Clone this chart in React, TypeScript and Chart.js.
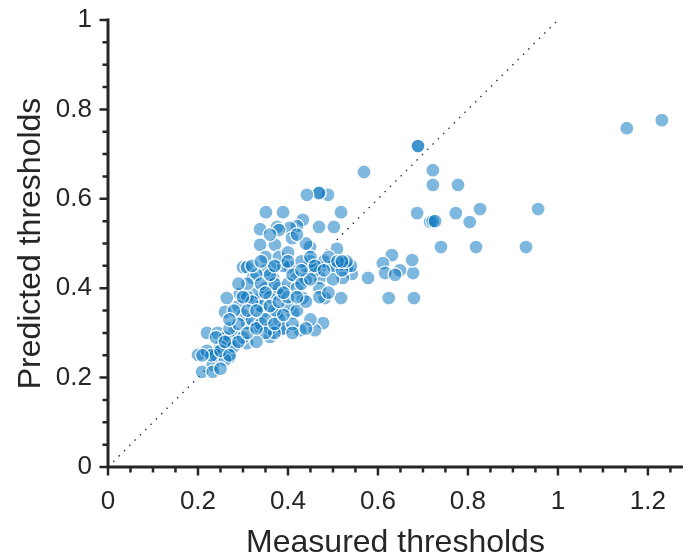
import React, { useEffect, useRef } from "react";
import { Chart, registerables } from "chart.js";
Chart.register(...registerables);

const measured = [
  1.231, 1.153, 0.956, 0.929, 0.818, 0.827, 0.804, 0.778, 0.773, 0.74,
  0.722, 0.722, 0.716, 0.722, 0.727, 0.687, 0.689, 0.689, 0.68, 0.678,
  0.676, 0.649, 0.631, 0.624, 0.611, 0.616, 0.638, 0.578, 0.569, 0.542,
  0.518, 0.518, 0.522, 0.531, 0.509, 0.502, 0.489, 0.469, 0.469, 0.442,
  0.433, 0.469, 0.449, 0.42, 0.404, 0.376, 0.338, 0.351, 0.389, 0.338,
  0.371, 0.409, 0.3, 0.309, 0.367, 0.404, 0.442, 0.471, 0.509, 0.54,
  0.322, 0.367, 0.42, 0.471, 0.522, 0.482, 0.433,
  0.378, 0.293, 0.264, 0.331, 0.26, 0.376, 0.342, 0.411, 0.478, 0.46,
  0.309, 0.382, 0.427, 0.22, 0.244, 0.271, 0.309, 0.36, 0.238, 0.2,
  0.271, 0.233, 0.209, 0.233, 0.271, 0.331, 0.33, 0.35, 0.36, 0.38,
  0.4, 0.42, 0.44, 0.46, 0.48, 0.5, 0.45, 0.39, 0.35, 0.33,
  0.31, 0.29, 0.3, 0.32, 0.34, 0.36, 0.38, 0.4, 0.42, 0.44,
  0.39, 0.37, 0.28, 0.26, 0.25, 0.27, 0.29, 0.22, 0.24, 0.26,
  0.25, 0.28, 0.43, 0.41, 0.37, 0.34, 0.47, 0.5, 0.49, 0.52,
  0.53, 0.35, 0.38, 0.45, 0.4, 0.44, 0.38, 0.36, 0.42, 0.31,
  0.29, 0.32, 0.37, 0.41, 0.45, 0.35, 0.3, 0.33,
  0.23, 0.21, 0.25, 0.27, 0.24, 0.26, 0.29, 0.31, 0.33, 0.35,
  0.37, 0.39, 0.36, 0.38, 0.4, 0.42, 0.43, 0.45, 0.46, 0.48,
  0.51, 0.34, 0.36, 0.32, 0.34, 0.37, 0.4, 0.43, 0.3, 0.28,
  0.27, 0.31, 0.33, 0.44, 0.41, 0.35, 0.39, 0.47, 0.49, 0.52,
];

const predicted = [
  0.776, 0.758, 0.577, 0.492, 0.492, 0.577, 0.548, 0.631, 0.568, 0.492,
  0.664, 0.631, 0.548, 0.55, 0.55, 0.568, 0.718, 0.718, 0.378, 0.434,
  0.463, 0.44, 0.474, 0.378, 0.456, 0.434, 0.43, 0.423, 0.66, 0.432,
  0.378, 0.57, 0.456, 0.447, 0.488, 0.537, 0.609, 0.613, 0.613, 0.609,
  0.553, 0.537, 0.492, 0.539, 0.535, 0.537, 0.532, 0.57, 0.57, 0.497,
  0.497, 0.512, 0.447, 0.447, 0.447, 0.447, 0.447, 0.447, 0.447, 0.45,
  0.423, 0.423, 0.423, 0.423, 0.423, 0.378, 0.378,
  0.387, 0.387, 0.378, 0.374, 0.347, 0.345, 0.345, 0.345, 0.322, 0.306,
  0.322, 0.306, 0.306, 0.3, 0.3, 0.284, 0.277, 0.291, 0.257, 0.251,
  0.246, 0.228, 0.213, 0.213, 0.268, 0.315, 0.39, 0.4, 0.38, 0.4,
  0.41, 0.4, 0.42, 0.44, 0.46, 0.45, 0.46, 0.45, 0.44, 0.43,
  0.38, 0.36, 0.34, 0.33, 0.32, 0.31, 0.33, 0.36, 0.35, 0.37,
  0.31, 0.3, 0.3, 0.29, 0.27, 0.31, 0.32, 0.26, 0.25, 0.24,
  0.22, 0.27, 0.46, 0.43, 0.41, 0.36, 0.4, 0.42, 0.47, 0.44,
  0.46, 0.47, 0.47, 0.47, 0.48, 0.5, 0.53, 0.52, 0.52, 0.41,
  0.41, 0.37, 0.35, 0.32, 0.33, 0.3, 0.29, 0.28,
  0.25, 0.25, 0.26, 0.25, 0.29, 0.28, 0.28, 0.3, 0.31, 0.33,
  0.32, 0.34, 0.36, 0.37, 0.38, 0.38, 0.41, 0.42, 0.45, 0.44,
  0.46, 0.41, 0.43, 0.45, 0.46, 0.45, 0.46, 0.44, 0.38, 0.35,
  0.33, 0.35, 0.35, 0.31, 0.3, 0.39, 0.39, 0.38, 0.39, 0.46,
];

const xTicks = [0, 0.2, 0.4, 0.6, 0.8, 1, 1.2];
const xTickLabels = ["0", "0.2", "0.4", "0.6", "0.8", "1", "1.2"];
const yTicks = [0, 0.2, 0.4, 0.6, 0.8, 1];
const yTickLabels = ["0", "0.2", "0.4", "0.6", "0.8", "1"];
const diagonal = [
  { x: 0, y: 0 },
  { x: 1, y: 1 },
];
const xTitle = "Measured thresholds";
const yTitle = "Predicted thresholds";

const INK = "#262626";
const FONT = "'Liberation Sans', Arial, Helvetica, sans-serif";

export default function App() {
  const ref = useRef<HTMLCanvasElement>(null);

  useEffect(() => {
    document.body.style.margin = "0";
    const canvas = ref.current;
    if (!canvas) return;

    const axesPlugin = {
      id: "axesPlugin",
      afterDraw(chart: any) {
        const { ctx, chartArea } = chart;
        const xs = chart.scales.x;
        const ys = chart.scales.y;
        const L = chartArea.left;
        const B = chartArea.bottom;
        ctx.save();
        ctx.strokeStyle = INK;
        ctx.lineCap = "butt";
        ctx.lineWidth = 3;
        ctx.beginPath();
        ctx.moveTo(L, ys.getPixelForValue(1) - 1.5);
        ctx.lineTo(L, B + 1.5);
        ctx.moveTo(L - 1.5, B);
        ctx.lineTo(chart.width, B);
        ctx.stroke();
        ctx.lineWidth = 2.5;
        ctx.beginPath();
        for (let i = 0; i <= 20; i++) {
          const py = ys.getPixelForValue(i * 0.05);
          const len = i % 4 === 0 ? 7 : 4;
          ctx.moveTo(L - 1.5 - len, py);
          ctx.lineTo(L, py);
        }
        for (let i = 0; i <= 25; i++) {
          const px = xs.getPixelForValue(i * 0.05);
          if (px > chart.width) break;
          const len = i % 4 === 0 ? 7 : 4;
          ctx.moveTo(px, B);
          ctx.lineTo(px, B + 1.5 + len);
        }
        ctx.stroke();
        ctx.fillStyle = INK;
        ctx.font = `32px ${FONT}`;
        ctx.textAlign = "center";
        ctx.textBaseline = "alphabetic";
        ctx.fillText(xTitle, (L + chart.width) / 2, 552);
        ctx.translate(40, (chartArea.top + B) / 2);
        ctx.rotate(-Math.PI / 2);
        ctx.fillText(yTitle, 0, 0);
        ctx.restore();
      },
    };

    const chart = new Chart(canvas, {
      type: "scatter",
      data: {
        datasets: [
          {
            type: "scatter",
            data: measured.map((x, i) => ({ x, y: predicted[i] })),
            backgroundColor: "rgba(0,114,189,0.5)",
            borderColor: "#ffffff",
            borderWidth: 1.2,
            pointRadius: 7,
            order: 1,
          } as any,
          {
            type: "line",
            data: diagonal,
            borderColor: "#333333",
            borderWidth: 1.4,
            borderDash: [1.5, 6],
            pointRadius: 0,
            fill: false,
            order: 2,
          } as any,
        ],
      },
      options: {
        responsive: false,
        animation: false,
        devicePixelRatio: 1,
        layout: { autoPadding: false, padding: { top: 20, left: 0, right: 0, bottom: 0 } },
        plugins: {
          legend: { display: false },
          tooltip: { enabled: false },
        },
        scales: {
          x: {
            type: "linear",
            min: 0,
            max: 1.278,
            grid: { display: false, drawTicks: false },
            border: { display: false },
            afterBuildTicks: (s: any) => {
              s.ticks = xTicks.map((value) => ({ value }));
            },
            afterFit: (s: any) => {
              s.height = 91;
              s.paddingLeft = 0;
              s.paddingRight = 0;
            },
            ticks: {
              color: INK,
              font: { family: FONT, size: 26 },
              padding: 19,
              maxRotation: 0,
              autoSkip: false,
              callback: (_v: any, i: number) => xTickLabels[i],
            },
          },
          y: {
            type: "linear",
            min: 0,
            max: 1,
            grid: { display: false, drawTicks: false },
            border: { display: false },
            afterBuildTicks: (s: any) => {
              s.ticks = yTicks.map((value) => ({ value }));
            },
            afterFit: (s: any) => {
              s.width = 108;
              s.paddingTop = 0;
              s.paddingBottom = 0;
            },
            ticks: {
              color: INK,
              font: { family: FONT, size: 26 },
              padding: 16,
              autoSkip: false,
              callback: (_v: any, i: number) => yTickLabels[i],
            },
          },
        },
      } as any,
      plugins: [axesPlugin],
    });

    return () => chart.destroy();
  }, []);

  return (
    <div style={{ position: "absolute", left: 0, top: 0, width: 683, height: 558 }}>
      <canvas ref={ref} width={683} height={558} style={{ display: "block" }} />
    </div>
  );
}
